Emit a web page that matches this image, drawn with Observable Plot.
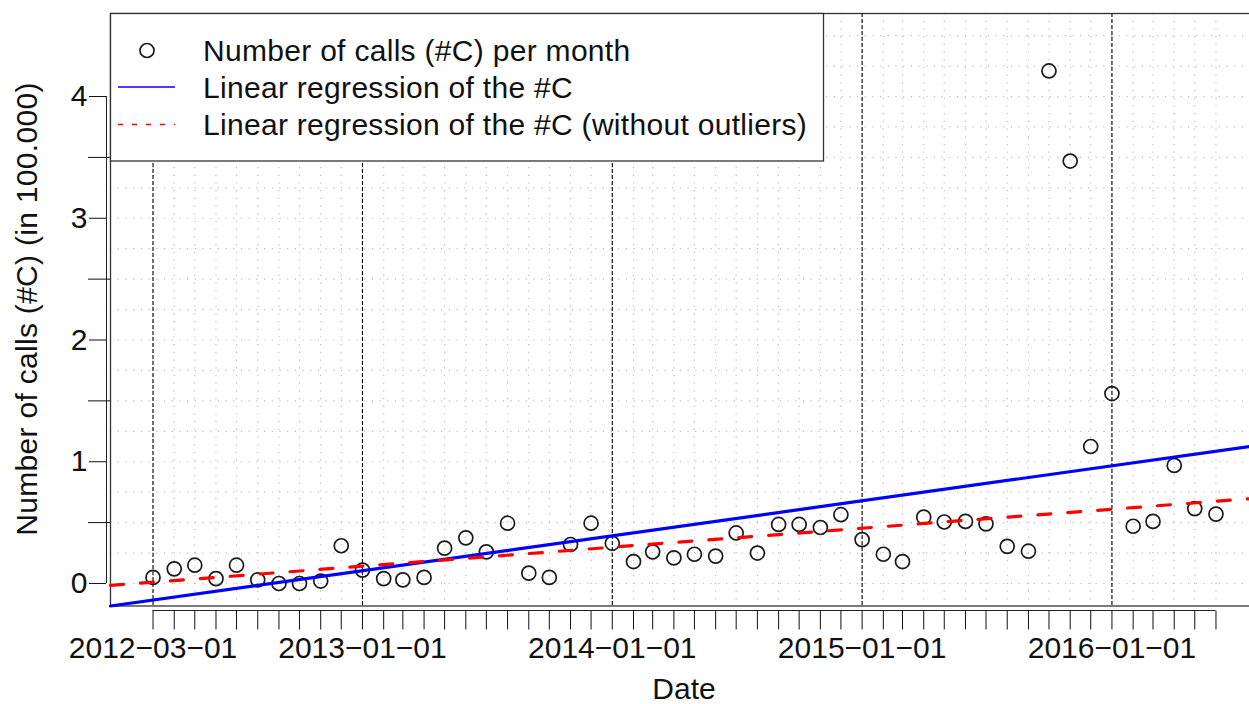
<!DOCTYPE html>
<html><head><meta charset="utf-8">
<script src="https://cdn.jsdelivr.net/npm/d3@7"></script>
<script src="https://cdn.jsdelivr.net/npm/@observablehq/plot@0.6"></script>
<style>
html,body{margin:0;padding:0;background:#fff;overflow:hidden;}
#chart{width:1249px;height:704px;overflow:hidden;position:relative;}
#chart svg{max-width:none !important;}
</style></head><body><div id="chart"></div>
<script>
// ---- data ----
const months = [
  "2012-03","2012-04","2012-05","2012-06","2012-07","2012-08","2012-09","2012-10","2012-11","2012-12",
  "2013-01","2013-02","2013-03","2013-04","2013-05","2013-06","2013-07","2013-08","2013-09","2013-10","2013-11","2013-12",
  "2014-01","2014-02","2014-03","2014-04","2014-05","2014-06","2014-07","2014-08","2014-09","2014-10","2014-11","2014-12",
  "2015-01","2015-02","2015-03","2015-04","2015-05","2015-06","2015-07","2015-08","2015-09","2015-10","2015-11","2015-12",
  "2016-01","2016-02","2016-03","2016-04","2016-05","2016-06"
];
const calls = [
  0.05, 0.12, 0.15, 0.04, 0.15, 0.03, 0.00, 0.00, 0.02, 0.31,
  0.11, 0.04, 0.03, 0.05, 0.29, 0.375, 0.26, 0.495, 0.085, 0.05, 0.32, 0.495,
  0.33, 0.18, 0.26, 0.21, 0.24, 0.225, 0.415, 0.25, 0.485, 0.485, 0.46, 0.565,
  0.36, 0.24, 0.18, 0.545, 0.505, 0.51, 0.49, 0.305, 0.265, 4.21, 3.47, 1.125,
  1.56, 0.47, 0.51, 0.97, 0.615, 0.57
];
const yearTicks = ["2012-03-01","2013-01-01","2014-01-01","2015-01-01","2016-01-01"];
const yMajorTicks = [0, 1, 2, 3, 4];
const yMinorTicks = [0.5, 1.5, 2.5, 3.5];
const yGrid = [0, 0.25, 0.5, 0.75, 1, 1.25, 1.5, 1.75, 2, 2.25, 2.5, 2.75, 3, 3.25, 3.5, 3.75, 4, 4.25, 4.5];
// fitted regression values at first and last month
const fitDates = ["2012-03-01", "2016-06-01"];
const fitAll = [-0.136, 1.086];
const fitClean = [0.011, 0.675];
const legendLabels = [
  "Number of calls (#C) per month",
  "Linear regression of the #C",
  "Linear regression of the #C (without outliers)"
];
const xLabel = "Date";
const yLabel = "Number of calls (#C) (in 100.000)";

// ---- build ----
const parse = d3.utcParse("%Y-%m-%d");
const data = months.map((m, i) => ({date: parse(m + "-01"), value: calls[i]}));
const monthDates = data.map(d => d.date);
const yearDates = yearTicks.map(parse);
const first = monthDates[0], last = monthDates[monthDates.length - 1];
const span = last - first;
const xDomain = [new Date(+first - 0.04 * span), new Date(+last + 0.04 * span)];
const yDomain = [-0.185, 4.682];
function fitLine(vals) {
  const t0 = +parse(fitDates[0]), t1 = +parse(fitDates[1]);
  const k = (vals[1] - vals[0]) / (t1 - t0);
  return xDomain.map(d => ({date: d, value: vals[0] + k * (+d - t0)}));
}
const fmt = d3.utcFormat("%Y-%m-%d");
const font = "'Liberation Sans', Arial, Helvetica, sans-serif";

const chart = Plot.plot({
  width: 1258, height: 704,
  marginLeft: 110, marginRight: 0, marginTop: 13, marginBottom: 98.5,
  style: {fontFamily: font, fontSize: "30px", color: "#111", background: "#fff", maxWidth: "none"},
  x: {type: "utc", domain: xDomain},
  y: {domain: yDomain},
  marks: [
    Plot.ruleY(yGrid, {stroke: "#bdbdbd", strokeWidth: 1.2, strokeDasharray: "1.2,6.5"}),
    Plot.ruleX(monthDates, {stroke: "#bdbdbd", strokeWidth: 1.2, strokeDasharray: "1.2,6.5"}),
    Plot.ruleX(yearDates, {stroke: "#000", strokeWidth: 1.1, strokeDasharray: "4,2"}),
    Plot.frame({stroke: "#333", strokeWidth: 1.3}),
    Plot.dot(data, {x: "date", y: "value", r: 7, stroke: "#1a1a1a", strokeWidth: 1.7, fill: "none"}),
    Plot.line(fitLine(fitAll), {x: "date", y: "value", stroke: "#0000ff", strokeWidth: 3.2}),
    Plot.line(fitLine(fitClean), {x: "date", y: "value", stroke: "#ff0000", strokeWidth: 3.2, strokeDasharray: "13,17"}),
    // y axis
    Plot.ruleX([xDomain[0]], {y1: yMajorTicks[0], y2: yMajorTicks[yMajorTicks.length - 1], dx: -4, stroke: "#222"}),
    Plot.axisY({ticks: yMajorTicks, tickSize: 17, dx: -4, tickPadding: 2, tickFormat: d => String(d), label: null, fontSize: 30}),
    Plot.axisY({ticks: yMinorTicks, tickSize: 22, fill: "none", label: null}),
    // x axis
    Plot.ruleY([yDomain[0]], {x1: first, x2: last, dy: 4.5, stroke: "#222"}),
    Plot.axisX({ticks: monthDates, tickSize: 19, dy: 5, fill: "none", label: null}),
    Plot.axisX({ticks: yearDates, tickSize: 0, tickPadding: 30.5, label: null, fontSize: 30,
                tickFormat: d => fmt(d).replace(/-/g, "\u2212")})
  ]
});
chart.style.maxWidth = "none";
document.getElementById("chart").appendChild(chart);

const svg = d3.select(chart);
// axis titles
svg.append("text").attr("x", 684).attr("y", 699).attr("text-anchor", "middle")
  .attr("font-family", font).attr("font-size", 30).attr("fill", "#111").text(xLabel);
svg.append("text").attr("transform", "translate(37,309) rotate(-90)").attr("text-anchor", "middle")
  .attr("font-family", font).attr("font-size", 30).attr("letter-spacing", 0.3).attr("fill", "#111").text(yLabel);
// legend
const lg = svg.append("g");
lg.append("rect").attr("x", 110.5).attr("y", 13.5).attr("width", 713).attr("height", 147.5)
  .attr("fill", "#fff").attr("stroke", "#333").attr("stroke-width", 1.3);
const rows = [50.5, 87, 124.5];
lg.append("circle").attr("cx", 147).attr("cy", rows[0]).attr("r", 7)
  .attr("fill", "none").attr("stroke", "#1a1a1a").attr("stroke-width", 1.7);
lg.append("line").attr("x1", 118).attr("x2", 175).attr("y1", rows[1]).attr("y2", rows[1])
  .attr("stroke", "#0000ff").attr("stroke-width", 1.4);
lg.append("line").attr("x1", 118).attr("x2", 175).attr("y1", rows[2]).attr("y2", rows[2])
  .attr("stroke", "#ff0000").attr("stroke-width", 1.4).attr("stroke-dasharray", "5,9");
legendLabels.forEach((t, i) => {
  lg.append("text").attr("x", 203).attr("y", rows[i] + 10.5).attr("text-anchor", "start")
    .attr("font-family", font).attr("font-size", 30).attr("letter-spacing", 0.3).attr("fill", "#111").text(t);
});
</script></body></html>
